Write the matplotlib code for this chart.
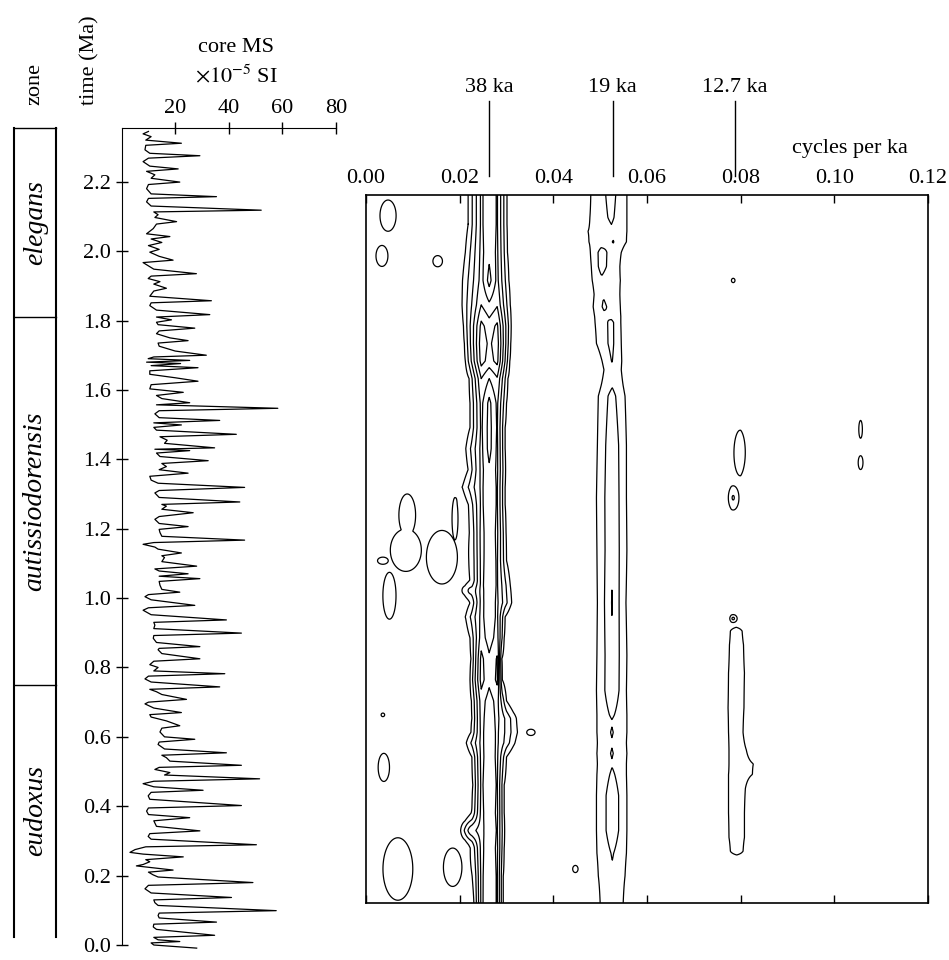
import numpy as np
import matplotlib.pyplot as plt

plt.rcParams['font.family'] = 'Liberation Serif'
plt.rcParams['mathtext.fontset'] = 'stix'

# core magnetic susceptibility (x1e-5 SI) against time (Ma)
ms_time = [2.345, 2.338, 2.330, 2.320, 2.311, 2.305, 2.292, 2.282, 2.275, 2.268,
           2.258, 2.245, 2.237, 2.230, 2.220, 2.210, 2.199, 2.192, 2.180, 2.165,
           2.157, 2.152, 2.142, 2.130, 2.118, 2.113, 2.105, 2.097, 2.085, 2.078,
           2.065, 2.050, 2.042, 2.035, 2.025, 2.016, 2.005, 1.997, 1.985, 1.974,
           1.967, 1.958, 1.948, 1.935, 1.928, 1.921, 1.912, 1.905, 1.893, 1.885,
           1.870, 1.857, 1.851, 1.843, 1.830, 1.817, 1.810, 1.802, 1.795, 1.788,
           1.778, 1.770, 1.762, 1.750, 1.742, 1.735, 1.726, 1.712, 1.700, 1.695,
           1.690, 1.685, 1.680, 1.676, 1.670, 1.664, 1.655, 1.645, 1.635, 1.625,
           1.615, 1.603, 1.593, 1.584, 1.575, 1.563, 1.557, 1.547, 1.540, 1.531,
           1.520, 1.512, 1.505, 1.499, 1.492, 1.484, 1.472, 1.465, 1.455, 1.446,
           1.433, 1.429, 1.425, 1.418, 1.408, 1.396, 1.388, 1.379, 1.370, 1.360,
           1.351, 1.340, 1.331, 1.319, 1.310, 1.303, 1.290, 1.277, 1.270, 1.265,
           1.256, 1.246, 1.235, 1.227, 1.215, 1.206, 1.198, 1.189, 1.178, 1.167,
           1.160, 1.155, 1.147, 1.141, 1.130, 1.122, 1.117, 1.105, 1.092, 1.084,
           1.078, 1.070, 1.063, 1.056, 1.048, 1.037, 1.025, 1.017, 1.010, 1.004,
           0.995, 0.979, 0.972, 0.965, 0.952, 0.937, 0.930, 0.922, 0.912, 0.899,
           0.892, 0.884, 0.872, 0.860, 0.855, 0.851, 0.840, 0.825, 0.818, 0.808,
           0.800, 0.790, 0.782, 0.775, 0.767, 0.758, 0.744, 0.737, 0.730, 0.722,
           0.708, 0.700, 0.695, 0.683, 0.670, 0.664, 0.657, 0.646, 0.632, 0.625,
           0.614, 0.600, 0.593, 0.585, 0.578, 0.565, 0.554, 0.547, 0.540, 0.530,
           0.518, 0.512, 0.506, 0.497, 0.490, 0.479, 0.472, 0.465, 0.456, 0.446,
           0.440, 0.430, 0.420, 0.402, 0.395, 0.386, 0.376, 0.367, 0.358, 0.342,
           0.329, 0.321, 0.313, 0.305, 0.289, 0.283, 0.275, 0.267, 0.262, 0.254,
           0.246, 0.240, 0.232, 0.228, 0.216, 0.210, 0.202, 0.196, 0.180, 0.172,
           0.162, 0.150, 0.137, 0.130, 0.122, 0.114, 0.099, 0.092, 0.085, 0.078,
           0.066, 0.060, 0.052, 0.045, 0.028, 0.022, 0.015, 0.010, 0.006, 0.000,
           -0.009]
ms_value = [10.0, 8.0, 11.0, 9.0, 22.3, 9.0, 8.7, 10.5, 29.2, 10.0,
            8.0, 10.5, 21.1, 9.3, 12.4, 11.0, 21.7, 10.0, 9.3, 11.0,
            35.4, 10.0, 9.3, 11.0, 52.1, 12.0, 13.6, 12.4, 20.5, 13.0,
            11.8, 9.3, 18.0, 11.0, 15.0, 10.0, 14.0, 10.5, 14.0, 19.2,
            8.0, 9.9, 12.0, 27.9, 11.0, 9.9, 14.3, 12.0, 16.7, 12.0,
            10.5, 33.5, 11.0, 10.5, 13.0, 32.9, 13.0, 18.6, 13.0, 13.6,
            27.3, 14.0, 13.0, 18.0, 24.8, 13.6, 14.0, 20.0, 31.6, 12.0,
            9.9, 25.4, 9.3, 22.0, 11.0, 28.5, 10.5, 10.5, 20.0, 28.5,
            11.0, 10.5, 23.0, 13.0, 15.0, 25.4, 13.0, 58.3, 14.0, 12.4,
            14.0, 36.6, 12.0, 22.3, 12.0, 13.0, 42.8, 14.3, 17.0, 16.0,
            34.7, 12.4, 25.4, 13.0, 14.3, 32.3, 15.0, 16.7, 14.0, 24.8,
            10.5, 11.0, 13.6, 45.9, 14.0, 12.4, 14.0, 44.1, 15.0, 16.7,
            15.0, 26.7, 14.0, 12.4, 14.0, 24.8, 14.0, 14.3, 15.0, 45.9,
            12.0, 8.0, 12.4, 13.6, 22.3, 15.0, 16.0, 15.0, 28.0, 12.4,
            14.0, 24.8, 14.0, 29.2, 14.0, 14.3, 15.0, 21.7, 10.0, 8.7,
            11.0, 27.3, 10.0, 8.0, 11.0, 39.1, 12.0, 12.4, 12.0, 44.7,
            12.0, 11.8, 13.0, 29.2, 14.0, 13.6, 15.0, 29.2, 12.0, 10.5,
            13.6, 12.0, 38.5, 10.0, 8.7, 11.0, 36.6, 10.5, 13.0, 15.0,
            24.2, 10.0, 8.7, 12.0, 22.3, 10.5, 11.0, 16.7, 21.7, 15.0,
            14.3, 16.0, 27.3, 14.0, 13.6, 16.0, 39.1, 15.0, 16.7, 18.0,
            44.7, 14.0, 12.4, 18.0, 16.0, 51.5, 12.0, 8.0, 12.0, 30.4,
            11.0, 9.9, 10.5, 44.7, 10.0, 9.3, 10.0, 25.4, 12.0, 13.0,
            29.2, 10.5, 9.9, 11.0, 50.3, 9.0, 5.0, 3.1, 8.0, 23.0,
            9.0, 10.5, 8.0, 5.5, 19.2, 10.0, 11.8, 13.6, 49.0, 10.0,
            8.7, 11.0, 41.0, 12.0, 12.4, 13.6, 57.7, 14.0, 13.6, 14.0,
            35.4, 12.0, 11.8, 13.0, 34.7, 12.0, 13.6, 21.7, 11.0, 12.0,
            28.0]

zone_names = ['eudoxus', 'autissiodorensis', 'elegans']
zone_bounds = [0.023, 0.75, 1.81, 2.355]

period_ka = [38, 19, 12.7]
period_labels = ['38 ka', '19 ka', '12.7 ka']

# evolutive spectrum: 38 ka band, outer contour edges and ridge heights
t38 = [0.14, 0.22, 0.30, 0.35, 0.40, 0.48, 0.56, 0.60, 0.63, 0.67, 0.72, 0.78,
       0.84, 0.90, 0.96, 1.00, 1.05, 1.12, 1.20, 1.28, 1.33, 1.38, 1.44,
       1.50, 1.57, 1.64, 1.69, 1.74, 1.79, 1.85, 1.92, 2.00, 2.08, 2.17]
left38 = [0.0231, 0.0230, 0.0226, 0.0212, 0.0226, 0.0228, 0.0226, 0.0214, 0.0224, 0.0226, 0.0225, 0.0222,
          0.0224, 0.0222, 0.0213, 0.0224, 0.0226, 0.0226, 0.0225, 0.0220, 0.0206, 0.0218, 0.0213,
          0.0222, 0.0222, 0.0220, 0.0212, 0.0210, 0.0208, 0.0205, 0.0206, 0.0212, 0.0218, 0.0218]
right38 = [0.0293, 0.0293, 0.0295, 0.0296, 0.0295, 0.0295, 0.0300, 0.0318, 0.0323, 0.0321, 0.0300, 0.0291,
           0.0290, 0.0295, 0.0297, 0.0311, 0.0308, 0.0300, 0.0299, 0.0297, 0.0297, 0.0298, 0.0297,
           0.0297, 0.0300, 0.0303, 0.0307, 0.0309, 0.0310, 0.0308, 0.0305, 0.0302, 0.0301, 0.0301]
peakL38 = [4.2, 4.2, 4.3, 4.2, 4.3, 4.2, 4.3, 4.3, 4.3, 4.4, 4.5, 5.4,
           5.3, 4.5, 4.3, 4.3, 4.2, 4.2, 4.3, 4.2, 4.2, 4.3, 4.3,
           4.2, 4.3, 5.0, 6.4, 6.6, 6.3, 5.0, 4.4, 4.3, 4.2, 4.2]
saddle38 = [3.3, 3.3, 3.3, 3.2, 3.3, 3.3, 3.4, 3.3, 3.3, 3.3, 3.5, 4.3,
            4.2, 3.5, 3.3, 3.3, 3.3, 3.4, 3.3, 3.3, 3.3, 3.2, 2.6,
            2.6, 2.7, 4.0, 5.6, 5.8, 5.5, 4.2, 2.6, 3.3, 3.3, 3.3]
peakR38 = [4.1, 4.1, 4.2, 4.1, 4.2, 4.1, 4.2, 4.2, 4.2, 4.3, 4.4, 5.2,
           5.1, 4.4, 4.2, 4.2, 4.1, 4.1, 4.2, 4.1, 4.1, 4.2, 4.2,
           4.1, 4.2, 4.9, 6.3, 6.5, 6.2, 4.9, 4.3, 4.2, 4.1, 4.1]
ridge38 = [0.0246, 0.0263, 0.0280]

# 19 ka band
t19 = [0.14, 0.22, 0.285, 0.35, 0.45, 0.51, 0.54, 0.57, 0.60, 0.63, 0.66, 0.68,
       0.75, 0.85, 1.00, 1.15, 1.30, 1.45, 1.59, 1.62, 1.665, 1.69, 1.74, 1.80,
       1.818, 1.845, 1.88, 1.92, 1.96, 2.00, 2.03, 2.06, 2.10, 2.17]
left19 = [0.0500, 0.0496, 0.0493, 0.0492, 0.0492, 0.0493, 0.0494, 0.0493, 0.0494, 0.0493, 0.0493, 0.0493,
          0.0492, 0.0493, 0.0494, 0.0493, 0.0492, 0.0494, 0.0496, 0.0502, 0.0508, 0.0504, 0.0492, 0.0489,
          0.0488, 0.0485, 0.0487, 0.0483, 0.0481, 0.0479, 0.0476, 0.0474, 0.0478, 0.0480]
right19 = [0.0549, 0.0553, 0.0556, 0.0557, 0.0557, 0.0556, 0.0556, 0.0557, 0.0556, 0.0557, 0.0557, 0.0557,
           0.0556, 0.0557, 0.0555, 0.0557, 0.0556, 0.0556, 0.0553, 0.0549, 0.0545, 0.0546, 0.0545, 0.0544,
           0.0544, 0.0543, 0.0542, 0.0543, 0.0542, 0.0545, 0.0556, 0.0557, 0.0557, 0.0557]
centre19 = [0.0525, 0.0525, 0.0526, 0.0527, 0.0527, 0.0526, 0.0525, 0.0525, 0.0525, 0.0525, 0.0525, 0.0525,
            0.0526, 0.0526, 0.0525, 0.0526, 0.0526, 0.0526, 0.0525, 0.0526, 0.0526, 0.0525, 0.0524, 0.0524,
            0.0515, 0.0508, 0.0506, 0.0504, 0.0502, 0.0502, 0.0528, 0.0524, 0.0524, 0.0524]
peak19 = [1.6, 1.8, 2.1, 2.7, 2.7, 2.2, 1.9, 2.1, 1.9, 2.1, 1.9, 2.2,
          2.9, 2.9, 3.05, 2.9, 2.9, 2.8, 2.4, 1.9, 1.7, 2.05, 2.3, 2.3,
          1.95, 2.2, 1.9, 1.8, 2.4, 2.4, 2.05, 1.8, 2.2, 2.4]

# 12.7 ka band
t127 = [0.14, 0.27, 0.29, 0.33, 0.40, 0.47, 0.51, 0.54, 0.58, 0.63, 0.70, 0.80, 0.88, 0.92, 0.94, 2.17]
left127 = [0.0780, 0.0780, 0.0778, 0.0775, 0.0774, 0.0774, 0.0774, 0.0775, 0.0775, 0.0774, 0.0773,
           0.0774, 0.0776, 0.0778, 0.0780, 0.0780]
right127 = [0.0800, 0.0802, 0.0805, 0.0808, 0.0808, 0.0810, 0.0825, 0.0827, 0.0812, 0.0805, 0.0807,
            0.0808, 0.0806, 0.0803, 0.0800, 0.0800]
peak127 = [0.5, 0.8, 1.2, 1.5, 1.5, 1.5, 1.5, 1.5, 1.5, 1.5, 1.5, 1.5, 1.5, 1.2, 0.8, 0.0]

# isolated islands of spectral power
blob_f = [0.0047, 0.0034, 0.0153, 0.0088, 0.0085, 0.0050, 0.0190, 0.0162, 0.0217, 0.0038, 0.0068, 0.0185,
          0.0220, 0.0447, 0.0352, 0.0036, 0.0799, 0.0784, 0.0784, 0.0784, 0.1056, 0.1056, 0.0036]
blob_t = [2.105, 1.99, 1.975, 1.25, 1.15, 1.02, 1.24, 1.13, 1.035, 0.53, 0.24, 0.245,
          0.35, 0.24, 0.63, 0.68, 1.43, 1.30, 1.92, 0.955, 1.495, 1.40, 1.12]
blob_sf = [0.0027, 0.0020, 0.0016, 0.0028, 0.0052, 0.0022, 0.0010, 0.0052, 0.0019, 0.0019, 0.0050, 0.0031,
           0.0020, 0.0009, 0.0014, 0.0006, 0.0013, 0.0011, 0.0005, 0.0006, 0.0006, 0.0008, 0.0018]
blob_st = [0.070, 0.047, 0.025, 0.095, 0.095, 0.105, 0.095, 0.120, 0.024, 0.063, 0.140, 0.086,
           0.031, 0.016, 0.014, 0.008, 0.063, 0.031, 0.008, 0.008, 0.040, 0.031, 0.016]
blob_amp = 1.5

f_grid = np.linspace(0, 0.12, 1201)
t_grid = np.linspace(0.143, 2.164, 900)


def to_grid(t_nodes, rows):
    t_nodes = np.asarray(t_nodes)
    rows = np.asarray(rows)
    idx = np.clip(np.searchsorted(t_nodes, t_grid), 1, len(t_nodes) - 1)
    w = ((t_grid - t_nodes[idx - 1]) / (t_nodes[idx] - t_nodes[idx - 1]))[:, None]
    return rows[idx - 1] * (1 - w) + rows[idx] * w


def band(left, right, centre, peak):
    rows = []
    for l, r, c, p in zip(left, right, centre, peak):
        e = min(1.0, p)
        rows.append(np.interp(f_grid, [l - 0.002, l, c, r, r + 0.002], [0, e, p, e, 0]))
    return rows


rows38 = [np.interp(f_grid, [l - 0.0015, l, ridge38[0], ridge38[1], ridge38[2], r, r + 0.0015],
                    [0, 1, a, m, b, 1, 0])
          for l, r, a, m, b in zip(left38, right38, peakL38, saddle38, peakR38)]
centre127 = [(l + r) / 2 for l, r in zip(left127, right127)]

field = to_grid(t38, rows38)
field += to_grid(t19, band(left19, right19, centre19, peak19))
field += to_grid(t127, band(left127, right127, centre127, peak127))

F, T = np.meshgrid(f_grid, t_grid)
islands = np.zeros_like(F)
for bf, bt, sf, st in zip(blob_f, blob_t, blob_sf, blob_st):
    islands = np.maximum(islands, blob_amp * np.exp(-((F - bf) / sf) ** 2 - ((T - bt) / st) ** 2))
field += islands

fig = plt.figure(figsize=(9.49, 9.6), dpi=100)
fs = 16
left_box = [0.0102, 0.8565]   # bottom, height of the time axis

# zone column
axz = fig.add_axes([0.0146, left_box[0], 0.0449, left_box[1]])
axz.set_xlim(0, 1)
axz.set_ylim(-0.015, 2.355)
axz.axis('off')
axz.plot([0, 0], [zone_bounds[0], zone_bounds[-1]], color='k', lw=1.5, clip_on=False)
axz.plot([1, 1], [zone_bounds[0], zone_bounds[-1]], color='k', lw=1.5, clip_on=False)
for b in zone_bounds[1:]:
    axz.plot([0, 1], [b, b], color='k', lw=1.0, clip_on=False)
for name, lo, hi in zip(zone_names, zone_bounds[:-1], zone_bounds[1:]):
    axz.text(0.5, (lo + hi) / 2, name, rotation=90, ha='center', va='center',
             style='italic', fontsize=20)

# core MS curve
ax = fig.add_axes([0.1282, left_box[0], 0.2258, left_box[1]])
ax.patch.set_alpha(0)
ax.plot(ms_value, ms_time, color='k', lw=0.9)
ax.set_xlim(0, 80)
ax.set_ylim(-0.015, 2.355)
ax.spines['right'].set_visible(False)
ax.spines['bottom'].set_visible(False)
ax.spines['left'].set_bounds(0, 2.355)
ax.xaxis.tick_top()
ax.set_xticks([20, 40, 60, 80])
yt = np.arange(0, 2.21, 0.2)
ax.set_yticks(yt)
ax.set_yticklabels(['%.1f' % v for v in yt])
ax.tick_params(axis='both', direction='inout', length=9, width=1, labelsize=fs)
ax.tick_params(axis='y', pad=3)
ax.tick_params(axis='x', pad=3)

fig.text(236 / 949, 1 - 48 / 960, 'core MS', ha='center', va='center', fontsize=fs)
fig.text(236 / 949, 1 - 76 / 960, r'$\times10^{-5}$ SI', ha='center', va='center', fontsize=fs)
fig.text(90 / 949, 1 - 105 / 960, 'time (Ma)', rotation=90, ha='center', va='bottom', fontsize=fs)
fig.text(35 / 949, 1 - 105 / 960, 'zone', rotation=90, ha='center', va='bottom', fontsize=fs)

# evolutive spectrum
axc = fig.add_axes([0.3857, 0.0594, 0.5922, 0.7375])
axc.contour(f_grid, t_grid, field, levels=[1, 2, 3, 4, 5, 6], colors='k', linewidths=0.9)
axc.set_xlim(0, 0.12)
axc.set_ylim(0.143, 2.164)
axc.set_yticks([])
xt = np.arange(0, 0.121, 0.02)
axc.set_xticks(xt)
axc.set_xticklabels(['%.2f' % v for v in xt])
axc.tick_params(axis='x', which='both', direction='in', length=6, width=1,
                top=True, bottom=True, labeltop=True, labelbottom=False, labelsize=fs, pad=5)
for s in axc.spines.values():
    s.set_linewidth(1.2)

tr = axc.get_xaxis_transform()
for p, lab in zip(period_ka, period_labels):
    axc.plot([1 / p, 1 / p], [1.027, 1.133], transform=tr, color='k', lw=1, clip_on=False)
    axc.text(1 / p, 1.152, lab, transform=tr, ha='center', va='center', fontsize=fs)
axc.text(0.1034, 1.066, 'cycles per ka', transform=tr, ha='center', va='center', fontsize=fs)

fig.savefig('out.png', dpi=100)
